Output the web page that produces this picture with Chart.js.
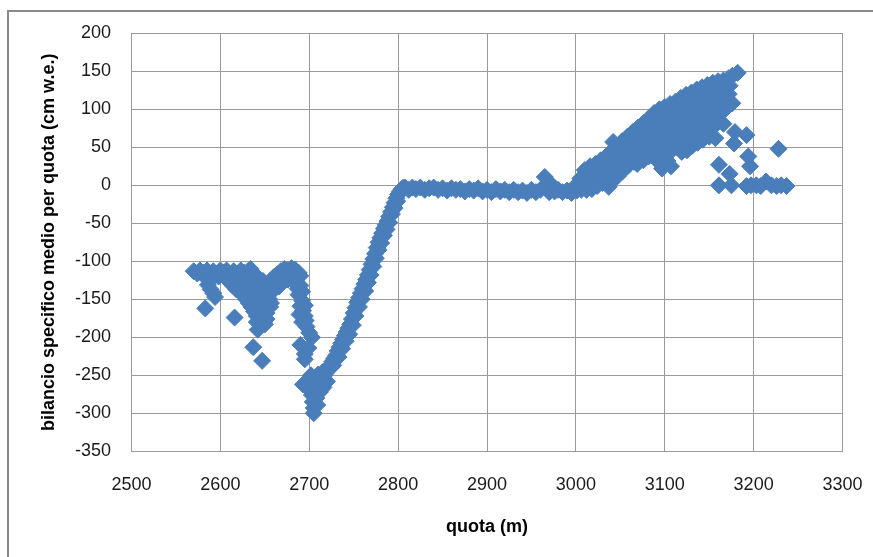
<!DOCTYPE html>
<html>
<head>
<meta charset="utf-8">
<script src="https://cdn.jsdelivr.net/npm/chart.js@4.4.1/dist/chart.umd.min.js"></script>
<style>
  html, body { margin: 0; padding: 0; background: #fff; overflow: hidden; }
  #frame { position: absolute; left: 7px; top: 10px; width: 1000px; height: 1000px; border: 2px solid #8a8a8a; }
  #wrap { position: absolute; left: 0; top: 0; width: 873px; height: 557px; }
</style>
</head>
<body>
<div id="frame"></div>
<div id="wrap"><canvas id="scatter"></canvas></div>
<script>
// bilancio specifico medio per fascia di quota: [quota m, cm w.e.]

// lingua: zona bassa, molto dispersa
const lingua = [
  [2570,-113],[2574,-116],[2577,-112],[2581,-115],[2585,-112],[2588,-117],[2592,-113],[2596,-116],
  [2600,-112],[2604,-115],[2607,-112],[2611,-117],[2615,-113],[2619,-116],[2623,-112],[2627,-115],
  [2631,-113],[2634,-110],[2637,-115],[2640,-119],
  [2583,-121],[2590,-123],[2598,-120],[2606,-122],[2614,-124],[2621,-121],[2628,-123],[2636,-124],
  [2586,-131],[2589,-137],[2592,-142],[2594,-147],[2583,-162],
  [2610,-127],[2614,-132],[2618,-137],[2622,-140],[2626,-145],[2629,-150],[2632,-155],[2635,-160],
  [2638,-166],[2641,-172],[2643,-178],[2645,-185],
  [2626,-130],[2632,-136],[2638,-141],[2643,-148],[2647,-155],[2650,-163],[2648,-170],[2652,-176],
  [2649,-180],[2644,-135],[2641,-128],[2648,-126],[2653,-140],[2655,-150],[2656,-160],
  [2620,-128],[2627,-138],[2634,-146],[2640,-155],[2636,-132],[2631,-126],[2645,-142],[2650,-148],
  [2641,-180],[2652,-168],[2657,-155],[2646,-162],[2642,-190],[2650,-183],
  [2652,-132],[2656,-126],[2660,-121],[2664,-117],[2668,-113],[2672,-110],[2676,-112],[2680,-109],
  [2684,-111],[2688,-115],[2690,-119],[2662,-130],[2667,-124],[2673,-119],[2679,-118],[2685,-121],
  [2666,-133],[2670,-128],[2676,-124],[2682,-126],[2660,-138],
  [2616,-174],[2637,-213],[2647,-231],
  [2686,-128],[2687,-136],[2688,-144],[2692,-152],[2690,-159],[2693,-165],[2695,-172],[2692,-180],
  [2697,-186],[2700,-194],[2703,-200],[2690,-210],[2699,-214],[2695,-222],[2695,-229],
  [2690,-132],[2692,-140],[2695,-158],[2689,-170],[2696,-178],
  [2693,-262],[2697,-258],[2699,-268],[2702,-262],[2703,-276],[2706,-270],[2704,-285],[2708,-280],
  [2705,-293],[2705,-300],[2709,-289],[2710,-262],[2706,-255],[2712,-272],[2702,-250],[2710,-249],
  [2715,-246],[2720,-244],[2724,-240],[2727,-237]
];

// fronte: risalita ripida fino al pianoro
const fronte = [
  [2712,-262],[2714,-258],[2716,-252],[2718,-248],[2720,-245],[2722,-240],[2724,-236],[2726,-232],
  [2728,-228],[2730,-224],[2732,-218],[2734,-213],[2736,-208],[2738,-203],[2740,-198],[2742,-193],
  [2744,-188],[2746,-183],[2748,-176],[2750,-168],[2752,-161],[2754,-154],[2756,-148],[2758,-142],
  [2760,-136],[2762,-130],[2764,-124],[2766,-118],[2768,-111],[2770,-104],[2772,-97],[2774,-90],
  [2776,-82],[2778,-75],[2780,-69],[2782,-63],[2784,-57],[2786,-52],[2788,-47],[2790,-41],
  [2792,-35],[2794,-29],[2796,-23],[2798,-17],[2800,-12],[2802,-8],[2804,-5],[2806,-3],
  [2713,-252],[2709,-262],[2716,-266],[2720,-258],
  [2733,-226],[2737,-215],[2741,-205],[2745,-196],[2749,-184],[2752,-172],[2756,-160],[2759,-150],
  [2763,-139],[2766,-128],[2769,-118],[2772,-107],[2775,-96],[2778,-85],[2781,-76],[2784,-66],
  [2787,-58],[2790,-49],[2793,-38],[2796,-30],[2799,-21]
];

// pianoro: valori quasi nulli
const pianoro = [
  [2808,-3],[2812,-6],[2816,-3],[2820,-5],[2825,-3],[2830,-6],[2835,-4],[2840,-3],[2845,-6],
  [2850,-4],[2855,-7],[2860,-4],[2865,-6],[2870,-5],[2875,-8],[2880,-5],[2885,-7],[2890,-4],
  [2895,-8],[2900,-6],[2905,-9],[2910,-5],[2915,-8],[2920,-6],[2925,-9],[2930,-6],[2935,-9],
  [2940,-7],[2945,-10],[2950,-6],[2955,-9],[2960,-6],[2965,11],[2970,4],[2970,-9],[2972,-4],
  [2976,-8],[2980,-6],[2985,-9],[2990,-7],[2995,-10]
];

// bacino: zona alta, bilancio positivo
const bacino = [
  [3000,0],[3001,-7],[3005,9],[3005,1],[3006,-6],
  [3010,20],[3011,11],[3010,2],[3012,-6],
  [3016,25],[3017,15],[3016,5],[3018,-5],
  [3022,28],[3023,18],[3022,8],[3024,-1],
  [3028,33],[3029,22],[3028,12],[3030,3],
  [3034,38],[3035,28],[3034,18],[3035,8],[3037,-2],
  [3040,45],[3041,35],[3040,25],[3041,15],[3040,5],[3042,57],
  [3046,50],[3047,40],[3046,30],[3048,20],[3047,12],
  [3052,58],[3053,48],[3052,38],[3054,28],[3053,19],
  [3058,64],[3059,54],[3058,44],[3060,34],[3059,26],
  [3064,70],[3065,60],[3064,50],[3066,40],[3065,31],
  [3070,76],[3071,66],[3070,56],[3072,46],[3071,36],[3069,28],
  [3076,82],[3077,72],[3076,62],[3078,52],[3077,42],[3076,33],
  [3082,88],[3083,78],[3082,68],[3084,58],[3083,48],[3082,38],
  [3088,95],[3089,88],[3090,64],[3089,54],[3088,44],[3090,34],
  [3094,100],[3095,90],[3094,79],[3096,69],[3095,58],[3094,48],[3096,38],[3095,29],[3097,22],
  [3100,103],[3101,93],[3100,83],[3102,72],[3101,62],[3100,52],[3102,42],[3103,32],[3107,25],
  [3106,107],[3107,97],[3106,86],[3108,76],[3107,66],[3106,56],[3108,46],
  [3112,110],[3113,100],[3112,90],[3113,70],[3112,60],[3114,50],
  [3118,115],[3119,105],[3118,94],[3120,84],[3119,74],[3118,64],[3119,44],
  [3124,119],[3125,109],[3124,98],[3126,88],[3125,78],[3124,68],[3126,58],[3125,46],
  [3130,122],[3131,112],[3130,102],[3132,92],[3130,72],[3132,62],[3131,52],
  [3136,126],[3137,116],[3136,106],[3138,96],[3137,86],[3136,76],[3138,66],[3137,56],
  [3142,129],[3143,119],[3142,109],[3144,99],[3143,88],[3142,78],[3144,70],[3143,60],
  [3148,132],[3149,122],[3148,112],[3150,102],[3149,92],[3148,84],[3150,64],
  [3154,135],[3155,125],[3154,115],[3156,105],[3155,95],[3155,77],[3157,62],
  [3160,137],[3161,127],[3160,117],[3162,107],[3161,97],
  [3166,138],[3167,128],[3166,116],[3168,100],[3166,81],
  [3172,141],[3173,131],[3172,120],[3176,144],[3176,108],[3182,148],
  [3158,84],[3179,70],[3192,66],[3178,55],[3228,48],[3194,38],[3196,25],[3161,27],[3173,15],
  [3161,0],[3175,0],[3192,-1],[3197,0],[3203,0],[3208,-1],[3214,5],[3220,0],[3226,-1],[3231,0],[3237,-1]
];

// assi
const xTicks = { min: 2500, max: 3300, step: 100 };
const yTicks = { min: -350, max: 200, step: 50 };

const punti = lingua.concat(fronte, pianoro, bacino).map(p => ({ x: p[0], y: p[1] }));

const grigio = '#9a9a9a';
const tickFont = { family: '"Liberation Sans", Arial, sans-serif', size: 18 };
const titleFont = { family: '"Liberation Sans", Arial, sans-serif', size: 18, weight: 'bold' };

new Chart(document.getElementById('scatter'), {
  type: 'scatter',
  data: {
    datasets: [{
      label: 'bilancio',
      data: punti,
      pointStyle: 'rectRot',
      pointRadius: 8.5,
      pointHoverRadius: 8.5,
      backgroundColor: '#4a7ebb',
      borderColor: '#4a7ebb',
      borderWidth: 1
    }]
  },
  options: {
    responsive: true,
    maintainAspectRatio: false,
    animation: false,
    layout: { padding: { top: 33.3, right: 30.5, bottom: 0, left: 0 } },
    plugins: { legend: { display: false }, tooltip: { enabled: false } },
    scales: {
      x: {
        type: 'linear',
        min: xTicks.min,
        max: xTicks.max,
        afterFit: s => { s.height = 105.7; s.paddingLeft = 0; s.paddingRight = 0; },
        ticks: { stepSize: xTicks.step, padding: 23, color: '#1a1a1a', font: tickFont, callback: v => v, maxRotation: 0 },
        grid: { color: grigio, drawTicks: false },
        border: { color: grigio },
        title: { display: true, text: 'quota (m)', color: '#000', font: titleFont, padding: { top: 0, bottom: 19 } }
      },
      y: {
        min: yTicks.min,
        max: yTicks.max,
        afterFit: s => { s.width = 131.5; s.paddingTop = 0; s.paddingBottom = 0; },
        ticks: { stepSize: yTicks.step, padding: 20.5, color: '#1a1a1a', font: tickFont, callback: v => v },
        grid: { color: grigio, drawTicks: false },
        border: { color: grigio },
        title: { display: true, text: 'bilancio specifico medio per quota (cm w.e.)', color: '#000', font: titleFont, padding: { top: 38, bottom: 0 } }
      }
    }
  }
});
</script>
</body>
</html>
